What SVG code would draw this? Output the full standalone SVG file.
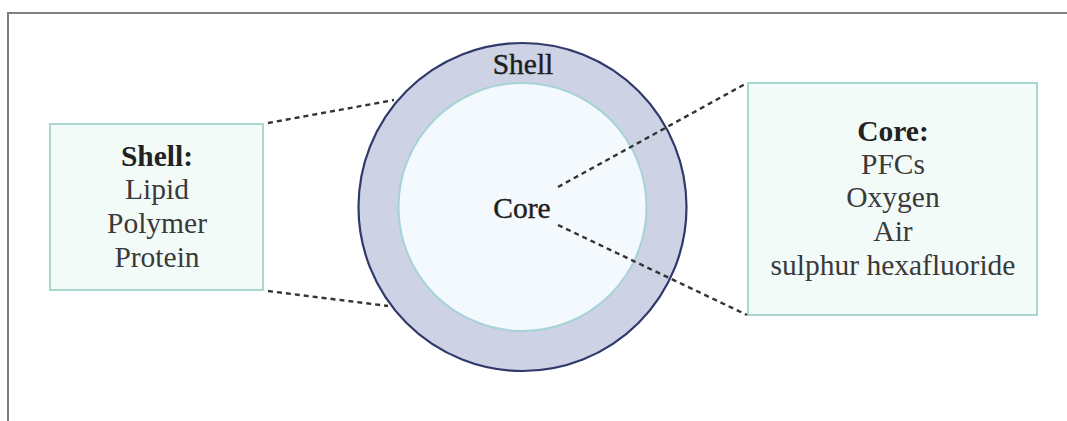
<svg xmlns="http://www.w3.org/2000/svg" width="1067" height="421" viewBox="0 0 1067 421">
  <style>
    .frame { fill: none; stroke: #808080; stroke-width: 2; }
    .box { fill: #f3fbf9; stroke: #a9d6cf; stroke-width: 2; }
    .txt { font-family: "Liberation Serif", "Times New Roman", serif; font-size: 29.5px; fill: #3a3a3a; text-anchor: middle; }
    .head { font-weight: bold; fill: #222; }
    .label { fill: #1e1e1e; stroke: #1e1e1e; stroke-width: 0.4; }
    .dash { fill: none; stroke: #333; stroke-width: 2.4; stroke-dasharray: 5 4; }
  </style>
  <rect width="1067" height="421" fill="#ffffff"/>
  <!-- page frame -->
  <path class="frame" d="M8 421 V13 H1067"/>

  <!-- particle: shell ring and core -->
  <g id="shell">
    <circle cx="522.5" cy="207" r="164" fill="#cdd2e5" stroke="#2f3a6b" stroke-width="2.2"/>
    <text class="txt label" x="523" y="74">Shell</text>
  </g>
  <g id="core">
    <circle cx="522.5" cy="207" r="124" fill="#f4f9fd" stroke="#a6d3d8" stroke-width="2"/>
    <text class="txt label" x="522" y="218">Core</text>
  </g>

  <!-- shell materials -->
  <g id="shell-box">
    <rect class="box" x="50" y="124" width="213" height="166"/>
    <text class="txt head" x="157" y="166">Shell:</text>
    <text class="txt" x="157" y="199">Lipid</text>
    <text class="txt" x="157" y="233">Polymer</text>
    <text class="txt" x="157" y="267">Protein</text>
  </g>

  <!-- core materials -->
  <g id="core-box">
    <rect class="box" x="748" y="83" width="289" height="232"/>
    <text class="txt head" x="893" y="141">Core:</text>
    <text class="txt" x="893" y="174">PFCs</text>
    <text class="txt" x="893" y="207">Oxygen</text>
    <text class="txt" x="893" y="241">Air</text>
    <text class="txt" x="893" y="275">sulphur hexafluoride</text>
  </g>

  <!-- callout lines -->
  <g id="connectors">
    <line class="dash" x1="268" y1="123" x2="394" y2="100"/>
    <line class="dash" x1="268" y1="291" x2="388" y2="306"/>
    <line class="dash" x1="558" y1="187" x2="747" y2="83"/>
    <line class="dash" x1="558" y1="225" x2="747" y2="315"/>
  </g>
</svg>
